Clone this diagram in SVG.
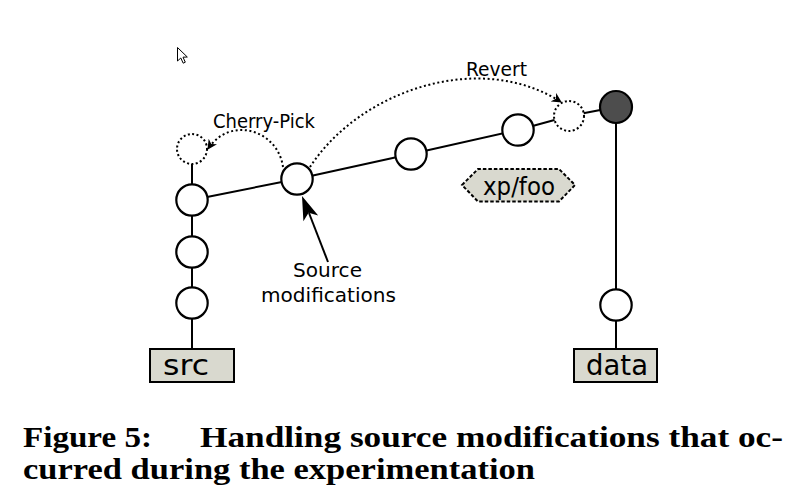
<svg xmlns="http://www.w3.org/2000/svg" width="802" height="500" viewBox="0 0 802 500">
<style>
.c{fill:#fff;stroke:#000;stroke-width:2.2}
.d{fill:#fff;stroke:#000;stroke-width:2;stroke-dasharray:2 2.4}
.ln{fill:none;stroke:#000;stroke-width:2}
.dot{fill:none;stroke:#000;stroke-width:2;stroke-dasharray:2 2.6}
.box{fill:#d9d9cf;stroke:#000;stroke-width:2}
.lbl{font-family:"DejaVu Sans","Liberation Sans",sans-serif;fill:#000}
.cap{font-family:"Liberation Serif","DejaVu Serif",serif;font-weight:bold;font-size:28.5px;fill:#000}
</style>
<defs>
<marker id="ah" viewBox="0 0 10 10" refX="9" refY="5" markerWidth="10" markerHeight="10" markerUnits="userSpaceOnUse" orient="auto">
<path d="M10,5 L0,0 L3,5 L0,10 Z" fill="#000"/>
</marker>
</defs>
<rect width="802" height="500" fill="#fff"/>
<path id="cursor" d="M177.5,47.5 L177.5,61 L180.8,58 L183.2,63.2 L185.3,62.2 L183,57.2 L187.3,57 Z" fill="#fff" stroke="#000" stroke-width="1"/>
<g id="connectors">
<line class="ln" x1="192" y1="164" x2="192" y2="349"/>
<polyline class="ln" points="192,200 297,179 411,154 518,130 569,116 616,107"/>
<line class="ln" x1="616" y1="107" x2="616" y2="349"/>
<path class="dot" d="M283,167 C278,130 230,115 208,149" marker-end="url(#ah)"/>
<path class="dot" d="M310,167 C360,90 480,50 561,102" marker-end="url(#ah)"/>
<line class="ln" x1="328" y1="262" x2="309" y2="213"/>
<polygon points="302,196 318.2,215.4 308.6,212.8 303.4,221.2" fill="#000"/>
</g>
<g id="n-cherry"><circle class="d" cx="192" cy="149" r="15"/></g>
<g id="n-src1"><circle class="c" cx="192" cy="200" r="15.7"/></g>
<g id="n-src2"><circle class="c" cx="192" cy="252" r="15.7"/></g>
<g id="n-src3"><circle class="c" cx="192" cy="303" r="15.7"/></g>
<g id="n-mod"><circle class="c" cx="297" cy="179" r="15.7"/></g>
<g id="n-b2"><circle class="c" cx="411" cy="154" r="15.7"/></g>
<g id="n-b3"><circle class="c" cx="518" cy="130" r="15.7"/></g>
<g id="n-revert"><circle class="d" cx="569" cy="116" r="15"/></g>
<g id="n-head"><circle cx="616" cy="107" r="16" fill="#4d4d4d" stroke="#000" stroke-width="2.2"/></g>
<g id="n-data1"><circle class="c" cx="616" cy="305" r="15.7"/></g>
<g id="src">
<rect class="box" x="150" y="349" width="84" height="33"/>
<text class="lbl" x="163" y="375" font-size="29" textLength="46" lengthAdjust="spacingAndGlyphs">src</text>
</g>
<g id="data">
<rect class="box" x="574" y="349" width="83" height="33"/>
<text class="lbl" x="586" y="375" font-size="28" textLength="62" lengthAdjust="spacingAndGlyphs">data</text>
</g>
<g id="xpfoo">
<polygon points="462,185 478,169 559,169 575,185 559,201.5 478,201.5" fill="#d9d9cf" stroke="#000" stroke-width="2" stroke-dasharray="3.5 2"/>
<text class="lbl" x="483" y="195" font-size="25" textLength="72" lengthAdjust="spacingAndGlyphs">xp/foo</text>
</g>
<g id="labels">
<text class="lbl" x="213" y="128" font-size="19" textLength="102" lengthAdjust="spacingAndGlyphs">Cherry-Pick</text>
<text class="lbl" x="466" y="76" font-size="19" textLength="61" lengthAdjust="spacingAndGlyphs">Revert</text>
<text class="lbl" x="293" y="277" font-size="20" textLength="69" lengthAdjust="spacingAndGlyphs">Source</text>
<text class="lbl" x="261" y="302" font-size="20" textLength="135" lengthAdjust="spacingAndGlyphs">modifications</text>
</g>
<g id="caption">
<text class="cap" x="23" y="447" textLength="129" lengthAdjust="spacingAndGlyphs">Figure 5:</text>
<text class="cap" x="200" y="447" textLength="583" lengthAdjust="spacingAndGlyphs">Handling source modifications that oc-</text>
<text class="cap" x="23" y="479" textLength="512" lengthAdjust="spacingAndGlyphs">curred during the experimentation</text>
</g>
</svg>
